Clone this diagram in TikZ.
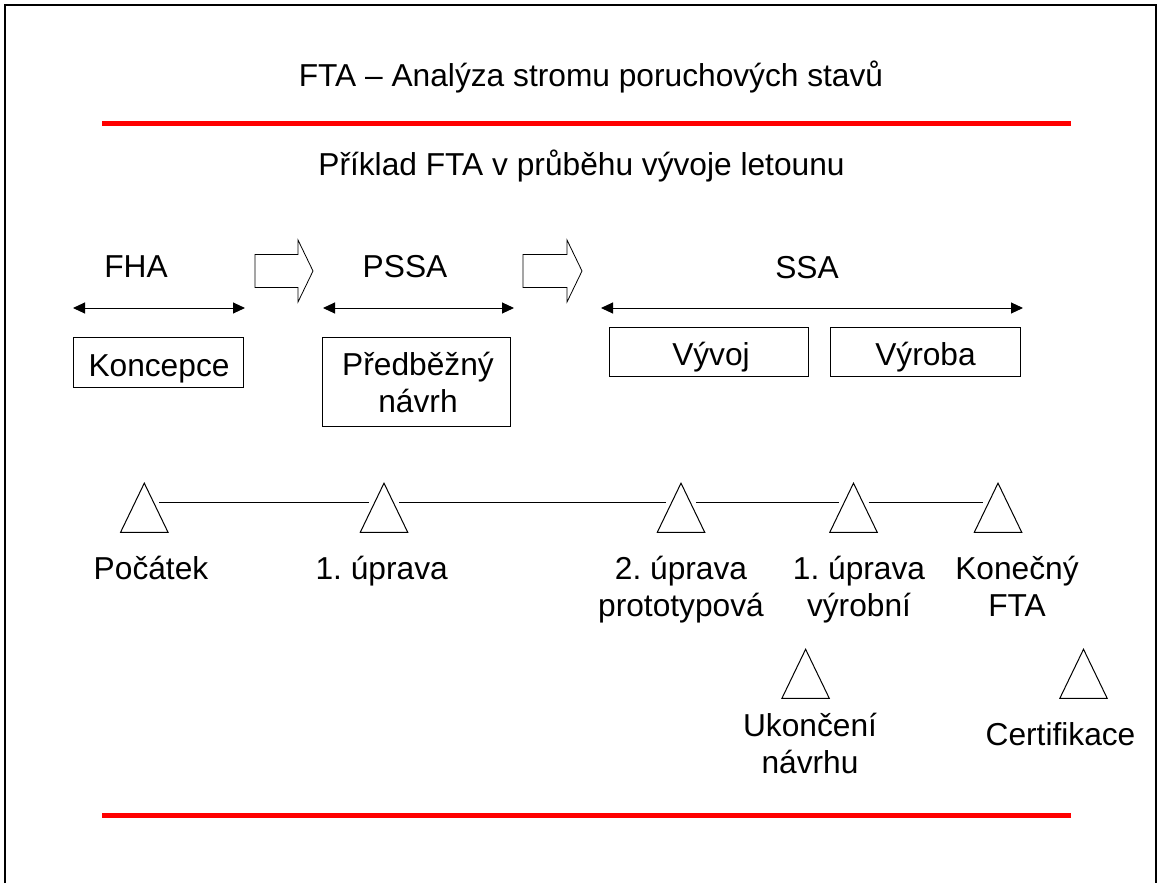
\documentclass[tikz,border=0pt]{standalone}
\usepackage{fontspec}
\setmainfont{Liberation Sans}
\usetikzlibrary{arrows.meta}
\frenchspacing

\tikzset{
  txt/.style={anchor=base, inner sep=0pt, align=center,
              font=\fontsize{31.7}{37.2}\selectfont},
  phasebox/.style={draw, line width=1pt, inner sep=0pt},
  milestone/.style={inner sep=0pt, minimum width=47pt, minimum height=48.7pt},
  span/.style={line width=1pt, {Triangle[length=12pt,width=11pt]}-{Triangle[length=12pt,width=11pt]}},
  blockarrow/.style={draw, line width=0.8pt, line join=miter},
  rule/.style={red, line width=5pt},
  timeline/.style={line width=1pt}
}

\begin{document}
\begin{tikzpicture}[x=1pt, y=-1pt]
  \useasboundingbox (0,0) rectangle (1158,883);

  % frame (open at the bottom)
  \draw[line width=2pt] (5,883) -- (5,5) -- (1156,5) -- (1156,883);

  % headings and rules
  \node[txt] (title) at (591,86.7) {FTA – Analýza stromu poruchových stavů};
  \draw[rule] (102,123.5) -- (1071,123.5);
  \node[txt] (subtitle) at (581.5,175) {Příklad FTA v průběhu vývoje letounu};
  \draw[rule] (102,815.5) -- (1071,815.5);

  % phase names
  \node[txt] (fha)  at (136,277) {FHA};
  \node[txt] (pssa) at (405,277) {PSSA};
  \node[txt] (ssa)  at (807,278) {SSA};

  % phase spans
  \coordinate (fhaL)  at (73,308);   \coordinate (fhaR)  at (245,308);
  \coordinate (pssaL) at (323,308);  \coordinate (pssaR) at (514,308);
  \coordinate (ssaL)  at (601,308);  \coordinate (ssaR)  at (1023,308);
  \draw[span] (fhaL) -- (fhaR);
  \draw[span] (pssaL) -- (pssaR);
  \draw[span] (ssaL) -- (ssaR);

  % block arrows between phases
  \draw[blockarrow] (255,254.5) -- (298,254.5) -- (298,240) -- (313,271)
        -- (298,302) -- (298,287.5) -- (255,287.5) -- cycle;
  \draw[blockarrow] (523,254.5) -- (567,254.5) -- (567,240) -- (582,271)
        -- (567,302) -- (567,287.5) -- (523,287.5) -- cycle;

  % stage boxes (multi-line labels are anchored at the last baseline)
  \node[phasebox, minimum width=170pt, minimum height=50pt] (koncepce) at (158,362) {};
  \node[txt] at (159,376) {Koncepce};
  \node[phasebox, minimum width=188.5pt, minimum height=88.7pt] (navrh) at (416.7,381.7) {};
  \node[txt] at (418,412.3) {Předběžný\\návrh};
  \node[phasebox, minimum width=199pt, minimum height=49.4pt] (vyvoj) at (708.8,352) {};
  \node[txt] at (711,365.7) {Vývoj};
  \node[phasebox, minimum width=190pt, minimum height=49.4pt] (vyroba) at (925,352) {};
  \node[txt] at (925.5,365.7) {Výroba};

  % milestones
  \node[milestone] (t1) at (144.3,507.7) {};
  \node[milestone] (t2) at (384,507.7) {};
  \node[milestone] (t3) at (681,507.7) {};
  \node[milestone] (t4) at (853.5,507.7) {};
  \node[milestone] (t5) at (998,507.7) {};
  \node[milestone] (t6) at (805.6,673.8) {};
  \node[milestone] (t7) at (1083.5,673.8) {};
  \foreach \t in {t1,t2,t3,t4,t5,t6,t7}
    \draw[line width=1pt, line join=miter]
      (\t.south west) -- (\t.north) -- (\t.south east) -- cycle;

  % timeline between milestones
  \foreach \a/\b in {t1/t2, t2/t3, t3/t4, t4/t5}
    \draw[timeline] ([xshift=15pt,yshift=5pt]\a.center) -- ([xshift=-15pt,yshift=5pt]\b.center);

  % milestone labels
  \node[txt] at (151,579)    {Počátek};
  \node[txt] at (381.7,579)  {1. úprava};
  \node[txt] at (681,616.7)  {2. úprava\\prototypová};
  \node[txt] at (859,616.7)  {1. úprava\\výrobní};
  \node[txt] at (1017,616.7) {Konečný\\FTA};
  \node[txt] at (810,773.3)  {Ukončení\\návrhu};
  \node[txt] at (1060.5,745) {Certifikace};
\end{tikzpicture}
\end{document}
